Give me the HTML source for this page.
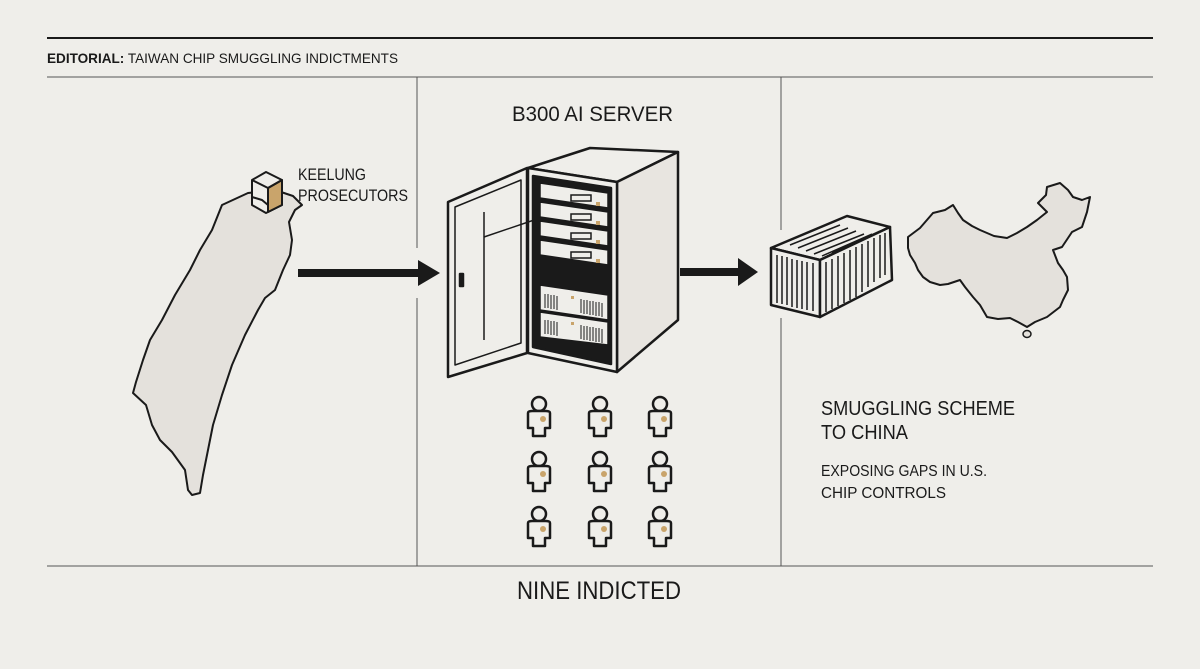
<!DOCTYPE html>
<html><head><meta charset="utf-8"><style>
html,body{margin:0;padding:0;background:#efeeea;}
svg{display:block}
text{font-family:"Liberation Sans",sans-serif;fill:#1a1a1a}
</style></head><body>
<svg width="1200" height="669" viewBox="0 0 1200 669" xmlns="http://www.w3.org/2000/svg">
<rect width="1200" height="669" fill="#efeeea"/>
<line x1="47" y1="38" x2="1153" y2="38" stroke="#1a1a1a" stroke-width="2"/>
<line x1="47" y1="77" x2="1153" y2="77" stroke="#555" stroke-width="1"/>
<line x1="47" y1="566" x2="1153" y2="566" stroke="#555" stroke-width="1"/>
<line x1="417" y1="77" x2="417" y2="248" stroke="#555"/>
<line x1="417" y1="298" x2="417" y2="566" stroke="#555"/>
<line x1="781" y1="77" x2="781" y2="230" stroke="#555"/>
<line x1="781" y1="318" x2="781" y2="566" stroke="#555"/>
<text x="47" y="63" font-size="14" textLength="351" lengthAdjust="spacingAndGlyphs"><tspan font-weight="bold">EDITORIAL:</tspan> TAIWAN CHIP SMUGGLING INDICTMENTS</text>

<!-- Taiwan -->
<path d="M248,193 L222,205 L212,230 L200,250 L190,270 L175,295 L162,320 L150,340 L143,360 L136,382 L133,393 L146,405 L152,425 L160,440 L172,452 L185,470 L188,490 L192,495 L200,493 L203,475 L207,455 L213,425 L222,395 L232,365 L245,335 L258,310 L265,298 L275,290 L283,270 L290,255 L292,240 L289,222 L295,210 L302,205 L293,196 L275,190 Z" fill="#e4e1dc" stroke="#1a1a1a" stroke-width="2" stroke-linejoin="round"/>
<g stroke="#1a1a1a" stroke-width="2" stroke-linejoin="round">
<polygon points="252,180 266,172 282,180 282,205 266,213 252,205" fill="#efeeea"/>
<polygon points="268,188 282,180 282,205 268,212" fill="#c9a46b"/>
<polyline points="252,180 268,188 282,180" fill="none"/>
<line x1="268" y1="188" x2="268" y2="212"/>
<polyline points="252,197 262,200 268,205" fill="none"/>
</g>
<text x="298" y="180" font-size="17" textLength="68" lengthAdjust="spacingAndGlyphs">KEELUNG</text>
<text x="298" y="201" font-size="17" textLength="110" lengthAdjust="spacingAndGlyphs">PROSECUTORS</text>

<!-- arrows -->
<rect x="298" y="269" width="122" height="8" fill="#1a1a1a"/>
<polygon points="418,260 440,273 418,286" fill="#1a1a1a"/>
<rect x="680" y="268" width="60" height="8" fill="#1a1a1a"/>
<polygon points="738,258 758,272 738,286" fill="#1a1a1a"/>

<text x="512" y="121" font-size="21" textLength="161" lengthAdjust="spacingAndGlyphs">B300 AI SERVER</text>

<!-- server cabinet -->
<g stroke="#1a1a1a" stroke-width="2.5" stroke-linejoin="round">
<polygon points="528,168 590,148 678,152 617,182" fill="#efeeea"/>
<polygon points="617,182 678,152 678,320 617,372" fill="#e8e5e0"/>
<polygon points="528,168 617,182 617,372 528,353" fill="#efeeea"/>
<polygon points="533,176 611,188 611,364 533,347" fill="#1a1a1a"/>
<polygon points="448,202 527,168 527,353 448,377" fill="#efeeea"/>
<polygon points="455,207 521,180 521,343 455,365" fill="none" stroke-width="1.5"/>
<line x1="484" y1="212" x2="484" y2="340" stroke-width="1.5"/>
<line x1="484" y1="237" x2="540" y2="218" stroke-width="1.5"/>
<rect x="460" y="274" width="3" height="12" fill="#1a1a1a"/>
</g>
<g stroke="#1a1a1a" stroke-width="1.5" fill="#efeeea">
<polygon points="540,183 608,193 608,208 540,198"/>
<polygon points="540,202 608,212 608,227 540,217"/>
<polygon points="540,221 608,231 608,246 540,236"/>
<polygon points="540,240 608,250 608,265 540,255"/>
<polygon points="540,285 608,295 608,320 540,310"/>
<polygon points="540,312 608,322 608,345 540,337"/>
<rect x="571" y="195" width="20" height="6" fill="none"/>
<rect x="571" y="214" width="20" height="6" fill="none"/>
<rect x="571" y="233" width="20" height="6" fill="none"/>
<rect x="571" y="252" width="20" height="6" fill="none"/>
</g>
<g fill="#c9a46b"><rect x="596" y="202" width="4" height="4"/><rect x="596" y="221" width="4" height="4"/><rect x="596" y="240" width="4" height="4"/><rect x="596" y="259" width="4" height="4"/><rect x="571" y="296" width="3" height="3"/><rect x="571" y="322" width="3" height="3"/></g>
<g stroke="#1a1a1a" stroke-width="1">
<path d="M545,294v14M548,294v14M551,295v14M554,295v14M557,296v14M581,299v14M584,300v14M587,300v14M590,301v14M593,301v14M596,302v14M599,302v14M602,303v14"/>
<path d="M545,320v14M548,320v14M551,321v14M554,321v14M557,322v14M581,325v14M584,326v14M587,326v14M590,327v14M593,327v14M596,328v14M599,328v14M602,329v14"/>
</g>

<!-- people -->
<defs>
<g id="p">
<circle cx="0" cy="-11" r="7" fill="#efeeea" stroke="#1a1a1a" stroke-width="2.5"/>
<path d="M-11,-2 Q-11,-4 -7,-4 H7 Q11,-4 11,-2 V13 H6 V21 H-6 V13 H-11 Z" fill="#efeeea" stroke="#1a1a1a" stroke-width="2.5" stroke-linejoin="round"/>
<circle cx="4" cy="4" r="3" fill="#c9a46b"/>
</g>
</defs>
<use href="#p" x="539" y="415"/><use href="#p" x="600" y="415"/><use href="#p" x="660" y="415"/>
<use href="#p" x="539" y="470"/><use href="#p" x="600" y="470"/><use href="#p" x="660" y="470"/>
<use href="#p" x="539" y="525"/><use href="#p" x="600" y="525"/><use href="#p" x="660" y="525"/>

<text x="517" y="599" font-size="25" textLength="164" lengthAdjust="spacingAndGlyphs">NINE INDICTED</text>

<!-- container -->
<g stroke="#1a1a1a" stroke-width="2.5" stroke-linejoin="round">
<polygon points="771,248 847,216 890,227 820,260" fill="#efeeea"/>
<polygon points="771,248 820,260 820,317 771,305" fill="#efeeea"/>
<polygon points="820,260 890,227 892,280 820,317" fill="#efeeea"/>
</g>
<g stroke="#1a1a1a" stroke-width="1.5">
<path d="M777,255v48M782,256v48M787,257v48M792,259v48M797,260v48M802,261v48M807,262v48M813,263v48"/>
<path d="M826,262v50M832,259v50M838,256v50M844,253v50M850,250v50M856,247v50M862,244v48M868,241v46M874,238v44M880,235v43M885,233v42"/>
<path d="M790,245l50,-20M798,248l50,-20M806,251l50,-20M814,254l50,-20M822,256l50,-22M832,253l48,-22"/>
</g>

<!-- China -->
<path d="M908,237 L920,228 L933,213 L945,210 L953,205 L958,213 L963,220 L972,226 L980,230 L994,236 L1007,238 L1017,233 L1027,227 L1037,220 L1047,212 L1038,203 L1046,195 L1047,187 L1060,183 L1068,190 L1073,197 L1082,200 L1090,197 L1087,212 L1082,227 L1072,232 L1062,247 L1053,250 L1058,263 L1063,270 L1067,277 L1068,290 L1063,300 L1060,307 L1047,317 L1035,322 L1027,327 L1018,322 L1010,318 L998,319 L987,317 L980,305 L973,297 L965,287 L960,280 L948,284 L940,285 L930,282 L923,277 L918,270 L915,263 L910,255 L908,248 Z" fill="#e4e1dc" stroke="#1a1a1a" stroke-width="2" stroke-linejoin="round"/>
<ellipse cx="1027" cy="334" rx="4" ry="3.5" fill="#e4e1dc" stroke="#1a1a1a" stroke-width="1.5"/>

<text x="821" y="415" font-size="20" textLength="194" lengthAdjust="spacingAndGlyphs">SMUGGLING SCHEME</text>
<text x="821" y="439" font-size="20" textLength="87" lengthAdjust="spacingAndGlyphs">TO CHINA</text>
<text x="821" y="476" font-size="16" textLength="166" lengthAdjust="spacingAndGlyphs">EXPOSING GAPS IN U.S.</text>
<text x="821" y="498" font-size="16" textLength="125" lengthAdjust="spacingAndGlyphs">CHIP CONTROLS</text>
</svg>
</body></html>
